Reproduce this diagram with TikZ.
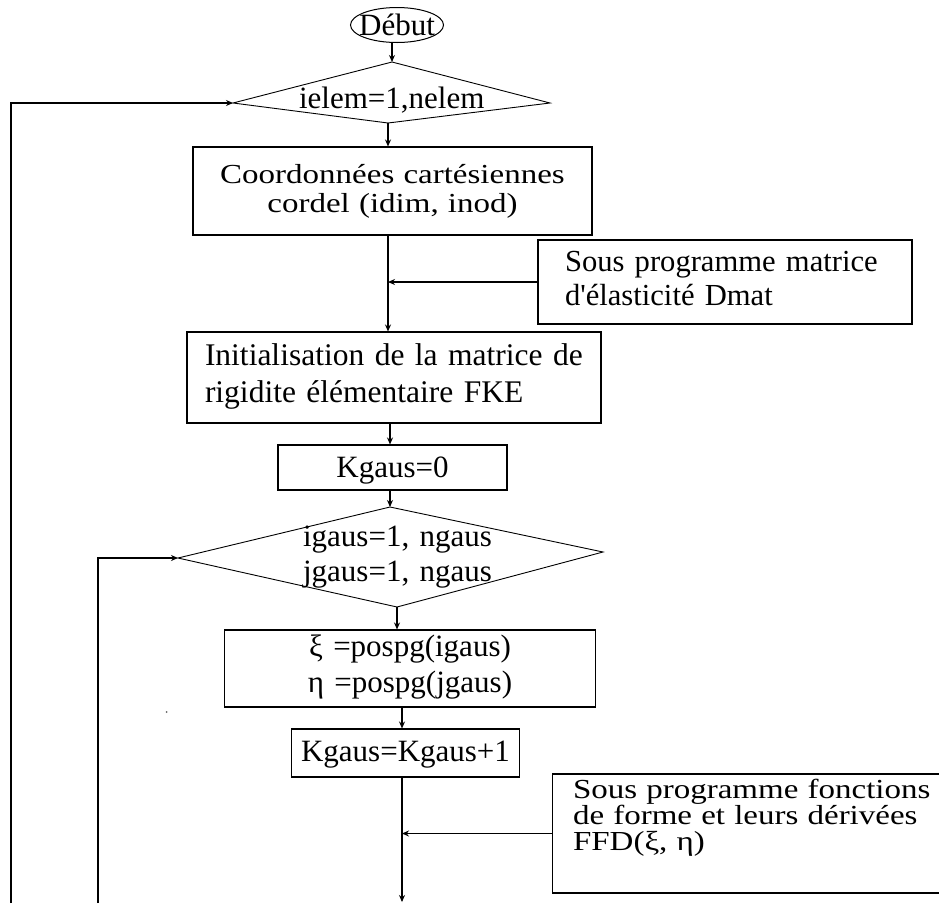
\documentclass[tikz,border=0pt]{standalone}
\usepackage{fontspec}
\setmainfont{Liberation Serif}
\newfontfamily\widefont{Liberation Serif}[FakeStretch=1.2]
\usetikzlibrary{shapes.geometric, arrows.meta}
\tikzstyle{start} = [ellipse, draw, line width=1pt, inner sep=0pt, minimum width=93pt, minimum height=35pt, text height=21pt, text depth=0pt]
\tikzstyle{box} = [rectangle, draw, line width=1.1pt, inner ysep=0pt]
\tikzstyle{test} = [inner sep=0pt, anchor=base, align=center, text width=300pt]
\tikzstyle{outline} = [line width=0.9pt, line join=miter]
\tikzstyle{arrow} = [line width=1.1pt, -{Stealth[length=7pt,width=6pt]}]
\newcommand{\labelfont}{\fontsize{31}{36}\selectfont}

\begin{document}
\begin{tikzpicture}[x=1pt, y=-1pt]
        \useasboundingbox (0,0) rectangle (939,903);

        % element loop
        \node[start, font=\labelfont] (debut) at (397,25) {\makebox[0pt]{Début}};
        \node[test, font=\labelfont] (elem) at (391.7,108) {ielem=1,nelem};
        \coordinate (elemN) at (392,62);
        \coordinate (elemE) at (550,103);
        \coordinate (elemS) at (388,123);
        \coordinate (elemW) at (233,103);
        \draw[outline] (elemN) -- (elemE) -- (elemS) -- (elemW) -- cycle;

        \node[box, text width=399pt, inner xsep=0pt, align=center, text height=36pt, text depth=52pt, font=\widefont\fontsize{27.5}{29}\selectfont] (coord) at (392.5,191) {Coordonnées cartésiennes\\cordel (idim, inod)};
        \node[box, text width=320pt, inner xsep=27pt, align=left, text height=31.7pt, text depth=52.3pt, font=\fontsize{30.6}{33.3}\selectfont] (dmat) at (725,282) {Sous programme matrice\\d\textquotesingle élasticité Dmat};
        \node[box, text width=378pt, inner xsep=18pt, align=left, text height=33pt, text depth=58pt, font=\fontsize{31.5}{37}\selectfont] (init) at (394,377.5) {Initialisation de la matrice de\\rigidite élémentaire FKE};
        \node[box, text width=229pt, inner xsep=0pt, align=center, text height=32pt, text depth=13pt, font=\labelfont] (gauss0) at (392.5,467.5) {Kgaus=0};

        % Gauss point loop
        \node[test, font=\fontsize{31}{35}\selectfont] (gauss) at (397.5,546.7) {igaus=1, ngaus\\jgaus=1, ngaus};
        \coordinate (gaussN) at (390,507);
        \coordinate (gaussE) at (603,552);
        \coordinate (gaussS) at (397,607);
        \coordinate (gaussW) at (178,558);
        \draw[outline] (gaussN) -- (gaussE) -- (gaussS) -- (gaussW) -- cycle;

        \node[box, text width=371pt, inner xsep=0pt, align=center, text height=26pt, text depth=51pt, font=\fontsize{31}{36}\selectfont] (xieta) at (410,668.5) {ξ =pospg(igaus)\\η =pospg(jgaus)};
        \node[box, text width=228pt, inner xsep=0pt, align=center, text height=32.7pt, text depth=15.3pt, font=\labelfont] (gaussinc) at (405.5,753) {Kgaus=Kgaus+1};
        \node[box, text width=360pt, inner xsep=20.5pt, align=left, text height=24pt, text depth=95pt, font=\widefont\fontsize{27.5}{26}\selectfont] (ffd) at (753,833.5) {Sous programme fonctions\\de forme et leurs dérivées\\FFD(ξ, η)};

        \coordinate (fin) at (402,902);
        \coordinate (loopA) at (11,903);
        \coordinate (loopB) at (98,903);

        \draw[arrow] (debut.south -| elemN) -- (elemN);
        \draw[arrow] (elemS) -- (elemS |- coord.north);
        \draw[arrow] (elemS |- coord.south) -- (elemS |- init.north);
        \draw[arrow] (dmat.west) -- (dmat.west -| elemS);
        \draw[arrow] (init.south -| gaussN) -- (gaussN |- gauss0.north);
        \draw[arrow] (gauss0.south -| gaussN) -- (gaussN);
        \draw[arrow] (gaussS) -- (gaussS |- xieta.north);
        \draw[arrow] (xieta.south -| fin) -- (fin |- gaussinc.north);
        \draw[arrow] (gaussinc.south -| fin) -- (fin);
        \draw[arrow] (ffd.west) -- (ffd.west -| fin);
        \draw[arrow] (loopA) |- (elemW);
        \draw[arrow] (loopB) |- (gaussW);

        % speck left of the loops
        \fill[black!60] (166.7,712) circle (1pt);
    \end{tikzpicture}
\end{document}
